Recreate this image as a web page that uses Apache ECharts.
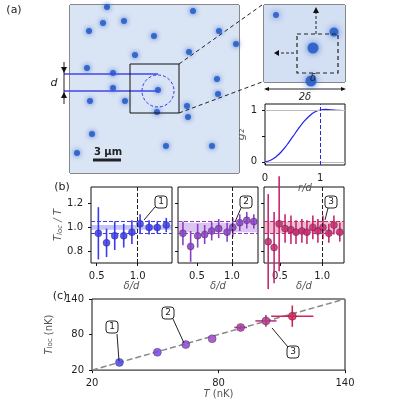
<!DOCTYPE html><html><head><meta charset="utf-8"><script src="https://cdn.jsdelivr.net/npm/echarts@6/dist/echarts.min.js"></script>
<style>body{margin:0}#c{width:400px;height:400px}</style></head><body><div id="c"></div><script>
const blobs=[[37,2],[33,18],[54,16],[19,26],[84,31],[123,6],[149,26],[166,39],[119,47],[65,50],[17,63],[43,68],[43,83],[88,85],[20,96],[55,96],[87,107],[117,101],[118,112],[147,74],[148,89],[22,129],[96,141],[142,141],[7,148]];
const insetBlobs=[[49,43,11],[70,27,9],[47,76,11],[12,10,6]];
const g2r=[0,0.1,0.2,0.3,0.4,0.5,0.6,0.7,0.8,0.9,1.0,1.1,1.2,1.3,1.4,1.45];
const g2v=[0,0.03,0.1,0.2,0.33,0.48,0.63,0.77,0.88,0.96,1.0,1.01,1.0,0.995,0.99,0.99];
const b1=[[0.52,0.95,0.22],[0.62,0.87,0.12],[0.72,0.93,0.12],[0.83,0.93,0.1],[0.93,0.96,0.1],[1.03,1.03,0.08],[1.14,1.0,0.06],[1.24,1.0,0.05],[1.35,1.02,0.06]];
const b2=[[0.3,0.95,0.1],[0.41,0.84,0.13],[0.51,0.93,0.1],[0.61,0.94,0.08],[0.71,0.97,0.08],[0.81,0.99,0.08],[0.93,0.96,0.08],[1.01,1.0,0.08],[1.11,1.04,0.07],[1.21,1.06,0.07],[1.31,1.05,0.06]];
const b3=[[0.36,0.88,0.4],[0.43,0.83,0.3],[0.49,1.03,0.4],[0.56,0.99,0.12],[0.63,0.98,0.12],[0.69,0.96,0.1],[0.76,0.97,0.1],[0.82,0.96,0.1],[0.89,1.0,0.1],[0.95,0.97,0.1],[1.01,1.0,0.1],[1.08,0.95,0.08],[1.14,1.02,0.08],[1.21,0.96,0.08]];
const cT=[33,51,64.5,77,90.5,102.5,115];
const cTloc=[33,50,63,73,92,103,111];
const cTerr=[0,0,0,0,3,5,10];
const cLerr=[0,0,0,0,4,10,18];
const cCol=['#4b45f2','#7a48e0','#8a45d0','#9b45c8','#a8409f','#b53a86','#d2245a'];
const blue='#3b3bf0',purple='#8a3fc8',pink='#c8286e';
const ch=echarts.init(document.getElementById('c'));
const F='DejaVu Sans';
function errS(gi,data,col,size){return [{type:'custom',xAxisIndex:gi,yAxisIndex:gi,data:data.map(d=>[d[0],d[1],d[2]||0,d[3]||0]),renderItem:(p,api)=>{const x=api.value(0),y=api.value(1),xe=api.value(2),ye=api.value(3);const a=api.coord([x,y-ye]),b=api.coord([x,y+ye]),c=api.coord([x-xe,y]),d=api.coord([x+xe,y]);const cc=Array.isArray(col)?col[p.dataIndex]:col;return {type:'group',children:[{type:'line',shape:{x1:a[0],y1:a[1],x2:b[0],y2:b[1]},style:{stroke:cc,lineWidth:1.6}},{type:'line',shape:{x1:c[0],y1:c[1],x2:d[0],y2:d[1]},style:{stroke:cc,lineWidth:1.6}}]};},z:3},
{type:'scatter',xAxisIndex:gi,yAxisIndex:gi,data:data.map(d=>[d[0],d[1]]),symbolSize:size,itemStyle:{color:Array.isArray(col)?(p=>col[p.dataIndex]):col,opacity:0.85,borderColor:'#222',borderWidth:0.4},z:4}];}
function band(gi,col,lo,hi){return {type:'line',xAxisIndex:gi,yAxisIndex:gi,data:[],markArea:{silent:true,itemStyle:{color:col,opacity:0.3},data:[[{yAxis:lo},{yAxis:hi}]]},markLine:{silent:true,symbol:'none',label:{show:false},data:[{yAxis:0.95,lineStyle:{color:col,type:'dashed',width:1}},{yAxis:1.05,lineStyle:{color:col,type:'dashed',width:1}},{xAxis:1.0,lineStyle:{color:'#222',type:'dashed',width:1}}]}};}
const gb={show:true,borderColor:'#111',borderWidth:1,backgroundColor:'transparent'};
const grids=[{left:70,top:5,width:169,height:168,...gb},{left:264,top:5,width:81,height:77,...gb},{left:265,top:104,width:80,height:61,...gb},{left:91,top:187,width:81,height:76,...gb},{left:178,top:187,width:80,height:76,...gb},{left:264,top:187,width:80,height:76,...gb},{left:92,top:299,width:253,height:75,...gb}];
const ax={axisLine:{show:false},axisTick:{show:false},axisLabel:{show:false},splitLine:{show:false}};
const lab={show:true,fontSize:10,color:'#222',fontFamily:F};
const tick={show:true,inside:false,length:3,lineStyle:{color:'#111'}};
const sub={s:{fontSize:7,verticalAlign:'bottom',fontStyle:'italic',fontFamily:F}};
function bx(gi,min,max){return {gridIndex:gi,type:'value',min,max,...ax,axisLabel:{...lab,customValues:[0.5,1.0],formatter:v=>v.toFixed(1)},axisTick:{...tick,customValues:[0.5,1.0]},name:'δ/d',nameLocation:'middle',nameGap:16,nameTextStyle:{fontSize:10,fontStyle:'italic',fontFamily:F}};}
function by(gi,show){return {gridIndex:gi,type:'value',min:0.7,max:1.34,...ax,axisTick:{...tick,customValues:[0.8,1.0,1.2]},axisLabel:{...lab,show,customValues:[0.8,1.0,1.2],formatter:v=>v.toFixed(1)}};}
const boxL=(x,y,t)=>({type:'group',children:[{type:'rect',shape:{x:x-6,y:y-6,width:12,height:12,r:3},style:{fill:'#fff',stroke:'#222',lineWidth:1}},{type:'text',x:x,y:y,style:{text:t,fontSize:9,fontFamily:F,align:'center',verticalAlign:'middle',fill:'#222'}}],z:20});
const ln=(x1,y1,x2,y2,o)=>({type:'line',shape:{x1,y1,x2,y2},style:Object.assign({stroke:'#222',lineWidth:1},o||{}),z:15});
const tx=(x,y,t,o)=>({type:'text',x,y,style:Object.assign({text:t,fontSize:10,fontFamily:F,fill:'#222',align:'center',verticalAlign:'middle'},o||{}),z:20});
const tri=(x,y,up,c)=>({type:'polygon',shape:{points:up?[[x-3,y+3],[x+3,y+3],[x,y-3]]:[[x-3,y-3],[x+3,y-3],[x,y+3]]},style:{fill:c||'#111'},z:20});
ch.setOption({animation:false,grid:grids,
xAxis:[{gridIndex:0,type:'value',min:0,max:169,...ax},{gridIndex:1,type:'value',min:0,max:81,...ax},
{gridIndex:2,type:'value',min:0,max:1.45,...ax,axisTick:{...tick,customValues:[0,1]},axisLabel:{...lab,customValues:[0,1]},name:'r/d',nameLocation:'middle',nameGap:14,nameTextStyle:{fontSize:10,fontStyle:'italic',fontFamily:F}},
bx(3,0.43,1.42),bx(4,0.23,1.37),bx(5,0.31,1.26),
{gridIndex:6,type:'value',min:20,max:140,interval:60,...ax,axisTick:tick,axisLabel:lab,name:'{i|T} (nK)',nameLocation:'middle',nameGap:16,nameTextStyle:{fontSize:10,fontFamily:F,rich:{i:{fontStyle:'italic',fontSize:10,fontFamily:F}}}}],
yAxis:[{gridIndex:0,type:'value',min:0,max:168,inverse:true,...ax},{gridIndex:1,type:'value',min:0,max:77,inverse:true,...ax},
{gridIndex:2,type:'value',min:-0.06,max:1.115,...ax,axisTick:{...tick,customValues:[0,0.5,1]},axisLabel:{...lab,customValues:[0,1]},name:'g₂',nameLocation:'middle',nameGap:14,nameTextStyle:{fontSize:11,fontStyle:'italic',fontFamily:F}},
{...by(3,true),name:'T{s|loc} / T',nameLocation:'middle',nameGap:26,nameTextStyle:{fontSize:10,fontStyle:'italic',fontFamily:F,rich:sub}},by(4,false),by(5,false),
{gridIndex:6,type:'value',min:20,max:140,interval:60,...ax,axisTick:tick,axisLabel:lab,name:'{i|T}{s|loc} (nK)',nameLocation:'middle',nameGap:24,nameTextStyle:{fontSize:10,fontFamily:F,rich:{i:{fontStyle:'italic',fontSize:10,fontFamily:F},s:{fontSize:7,verticalAlign:'bottom',fontFamily:F}}}}],
series:[
{type:'scatter',xAxisIndex:0,yAxisIndex:0,data:blobs,symbolSize:6,itemStyle:{color:'#2a5fc8',opacity:0.9,shadowBlur:5,shadowColor:'#2f63c8'},markArea:{silent:true,itemStyle:{color:'#d9e4f5'},data:[[{xAxis:0,yAxis:0},{xAxis:169,yAxis:168}]]},z:2},
{type:'scatter',xAxisIndex:1,yAxisIndex:1,data:[],markArea:{silent:true,itemStyle:{color:'#d3dff3'},data:[[{xAxis:0,yAxis:0},{xAxis:81,yAxis:77}]]}},
{type:'scatter',xAxisIndex:1,yAxisIndex:1,data:insetBlobs,symbolSize:d=>d[2],itemStyle:{color:'#2a5fc8',opacity:0.9,shadowBlur:6,shadowColor:'#3a6fd0'},z:3},
{type:'line',xAxisIndex:2,yAxisIndex:2,data:g2r.map((r,i)=>[r,g2v[i]]),showSymbol:false,smooth:true,lineStyle:{color:'#2222ee',width:1.2},markLine:{silent:true,symbol:'none',label:{show:false},data:[{yAxis:0,lineStyle:{color:'#bbb',type:'solid',width:1}},{yAxis:1,lineStyle:{color:'#bbb',type:'solid',width:1}},{xAxis:1,lineStyle:{color:'#2222ee',type:'dashed',width:1}}]}},
band(3,blue,0.98,1.02),band(4,purple,0.96,1.04),band(5,pink,0.95,1.05),
...errS(3,b1.map(d=>[d[0],d[1],0,d[2]]),blue,7),...errS(4,b2.map(d=>[d[0],d[1],0,d[2]]),purple,7),...errS(5,b3.map(d=>[d[0],d[1],0,d[2]]),pink,7),
{type:'line',xAxisIndex:6,yAxisIndex:6,data:[[20,20],[140,140]],showSymbol:false,lineStyle:{color:'#888',type:'dashed',width:1.5},z:2},
...errS(6,cT.map((t,i)=>[t,cTloc[i],cTerr[i],cLerr[i]]),cCol,8)
],
graphic:[tx(14,10,'(a)',{fontSize:11}),tx(62,187,'(b)',{fontSize:11}),tx(60,296,'(c)',{fontSize:11}),
ln(64,74,158,74,{stroke:'#4444ee',lineWidth:1.5}),ln(64,91,158,91,{stroke:'#4444ee',lineWidth:1.5}),ln(64,62,64,104),tri(64,70,false),tri(64,95,true),tx(54,83,'d',{fontStyle:'italic',fontSize:11}),
{type:'circle',shape:{cx:158,cy:91,r:16},style:{fill:'none',stroke:'#3333ee',lineDash:[3,2],lineWidth:1},z:15},
{type:'rect',shape:{x:130,y:64,width:49,height:49},style:{fill:'none',stroke:'#111',lineWidth:1},z:15},
ln(179,64,262,5,{lineDash:[4,3]}),ln(179,113,262,82,{lineDash:[4,3]}),
ln(93,160,121,160,{lineWidth:3}),tx(108,152,'3 μm',{fontWeight:'bold',fontSize:10}),
{type:'rect',shape:{x:297,y:34,width:41,height:39},style:{fill:'none',stroke:'#222',lineDash:[4,3],lineWidth:1.2},z:15},
ln(316,34,316,11,{lineDash:[3,2]}),tri(316,10,true),ln(294,53,278,53,{lineDash:[3,2]}),{type:'polygon',shape:{points:[[274,53],[279,50],[279,56]]},style:{fill:'#111'},z:20},
tx(313,78,'δ',{fontStyle:'italic',fontSize:10}),
ln(266,89,343,89),{type:'polygon',shape:{points:[[264,89],[269,87],[269,91]]},style:{fill:'#111'},z:20},{type:'polygon',shape:{points:[[346,89],[341,87],[341,91]]},style:{fill:'#111'},z:20},
tx(305,97,'2δ',{fontStyle:'italic',fontSize:10}),
ln(155,207,144,220),boxL(161,202,'1'),ln(241,208,235,222),boxL(246,202,'2'),ln(328,208,325,220),boxL(331,202,'3'),
ln(117,334,119,361),boxL(112,327,'1'),ln(173,319,184,343),boxL(168,313,'2'),ln(288,347,272,328),boxL(293,352,'3')]
});
</script></body></html>
